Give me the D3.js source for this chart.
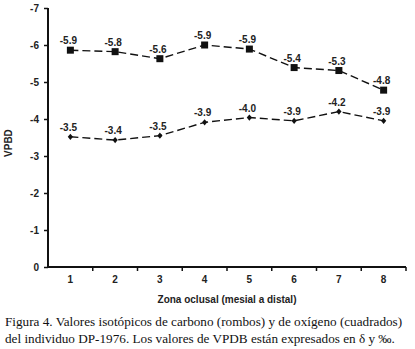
<!DOCTYPE html>
<html>
<head>
<meta charset="utf-8">
<script src="https://cdn.jsdelivr.net/npm/d3@7"></script>
<style>
body { margin: 0; background: #fff; }
.tick text { font-family: Arial, "Liberation Sans", sans-serif; font-weight: bold; font-size: 10px; fill: #222; }
</style>
</head>
<body>
<div id="chart"></div>
<script>
// Zona oclusal 1..8
var zones = ["1", "2", "3", "4", "5", "6", "7", "8"];

// oxigeno (cuadrados)
var oxygen = [-5.86, -5.82, -5.63, -6.0, -5.89, -5.39, -5.31, -4.78];
var oxygenLabels = ["-5.9", "-5.8", "-5.6", "-5.9", "-5.9", "-5.4", "-5.3", "-4.8"];

// carbono (rombos)
var carbon = [-3.52, -3.43, -3.55, -3.91, -4.04, -3.95, -4.2, -3.95];
var carbonLabels = ["-3.5", "-3.4", "-3.5", "-3.9", "-4.0", "-3.9", "-4.2", "-3.9"];

var yTicks = [0, -1, -2, -3, -4, -5, -6, -7];

var svgWidth = 415;
var svgHeight = 349;

var margin = { top: 8, right: 9, bottom: 82, left: 48 };
var width = svgWidth - margin.left - margin.right;
var height = svgHeight - margin.top - margin.bottom;

var svg = d3.select("#chart")
  .append("svg")
  .attr("width", svgWidth)
  .attr("height", svgHeight);

var chartGroup = svg.append("g")
  .attr("transform", `translate(${margin.left}, ${margin.top})`);

var xScale = d3.scaleBand().domain(zones).range([0, width]);
var yScale = d3.scaleLinear().domain([0, -7]).range([height, 0]);

var cx = function(d, i) { return xScale(zones[i]) + xScale.bandwidth() / 2; };

// y axis (plain hyphen minus, like the original)
var leftAxis = d3.axisLeft(yScale).tickValues(yTicks).tickSize(4).tickPadding(5)
  .tickFormat(function(d) { return String(d); });
var yAxisG = chartGroup.append("g").call(leftAxis);
yAxisG.select(".domain").attr("stroke", "#111").attr("stroke-width", 2).attr("d", `M0,${height}V0`);
yAxisG.selectAll(".tick line").attr("stroke", "#111").attr("stroke-width", 1.5);

// x axis: ticks on band edges, labels centered
var bottomAxis = d3.axisBottom(xScale).tickSize(0).tickPadding(9);
var xAxisG = chartGroup.append("g")
  .attr("transform", `translate(0, ${height})`)
  .call(bottomAxis);
xAxisG.select(".domain").attr("stroke", "#111").attr("stroke-width", 2).attr("d", `M0,0H${width}`);

xAxisG.selectAll(".edge")
  .data(zones)
  .enter()
  .append("line")
  .attr("class", "edge")
  .attr("x1", function(d) { return xScale(d) + xScale.bandwidth(); })
  .attr("x2", function(d) { return xScale(d) + xScale.bandwidth(); })
  .attr("y1", 0)
  .attr("y2", 4)
  .attr("stroke", "#111")
  .attr("stroke-width", 1.5);

// axis titles
chartGroup.append("text")
  .attr("x", width / 2)
  .attr("y", height + 36)
  .style("text-anchor", "middle")
  .attr("font-family", "Arial, 'Liberation Sans', sans-serif")
  .attr("font-weight", "bold")
  .attr("font-size", "10px")
  .attr("fill", "#222")
  .text("Zona oclusal (mesial a distal)");

chartGroup.append("text")
  .attr("transform", "rotate(-90)")
  .attr("x", -(yScale(-3.35)))
  .attr("y", -36)
  .style("text-anchor", "middle")
  .attr("font-family", "Arial, 'Liberation Sans', sans-serif")
  .attr("font-weight", "bold")
  .attr("font-size", "10px")
  .attr("fill", "#222")
  .text("VPBD");

// lines
var line = d3.line()
  .x(function(d, i) { return cx(d, i); })
  .y(function(d) { return yScale(d); });

[oxygen, carbon].forEach(function(series) {
  chartGroup.append("path")
    .datum(series)
    .attr("d", line)
    .attr("fill", "none")
    .attr("stroke", "#111")
    .attr("stroke-width", 1.4)
    .attr("stroke-dasharray", "8,4");
});

// squares
chartGroup.append("g")
  .selectAll("rect")
  .data(oxygen)
  .enter()
  .append("rect")
  .attr("x", function(d, i) { return cx(d, i) - 3.5; })
  .attr("y", function(d) { return yScale(d) - 3.5; })
  .attr("width", 7)
  .attr("height", 7)
  .attr("fill", "#111");

// diamonds
chartGroup.append("g")
  .selectAll("path")
  .data(carbon)
  .enter()
  .append("path")
  .attr("d", d3.symbol().type(d3.symbolDiamond).size(14))
  .attr("transform", function(d, i) { return `translate(${cx(d, i)}, ${yScale(d)}) scale(1.3, 0.9)`; })
  .attr("fill", "#111");

// value labels
function addLabels(series, labels, dy) {
  chartGroup.append("g")
    .selectAll("text")
    .data(series)
    .enter()
    .append("text")
    .attr("x", function(d, i) { return cx(d, i) - 2; })
    .attr("y", function(d) { return yScale(d) + dy; })
    .style("text-anchor", "middle")
    .attr("font-family", "Arial, 'Liberation Sans', sans-serif")
    .attr("font-weight", "bold")
    .attr("font-size", "10px")
    .attr("fill", "#222")
    .text(function(d, i) { return labels[i]; });
}
addLabels(oxygen, oxygenLabels, -6);
addLabels(carbon, carbonLabels, -6);

// caption
var caption = [
  "Figura 4. Valores isotópicos de carbono (rombos) y de oxígeno (cuadrados)",
  "del individuo DP-1976. Los valores de VPDB están expresados en δ y ‰."
];
svg.append("g")
  .selectAll("text")
  .data(caption)
  .enter()
  .append("text")
  .attr("x", 5)
  .attr("y", function(d, i) { return 326 + i * 17; })
  .attr("font-family", "'Liberation Serif', 'Times New Roman', serif")
  .attr("font-size", "13.2px")
  .attr("fill", "#111")
  .text(function(d) { return d; });
</script>
</body>
</html>
